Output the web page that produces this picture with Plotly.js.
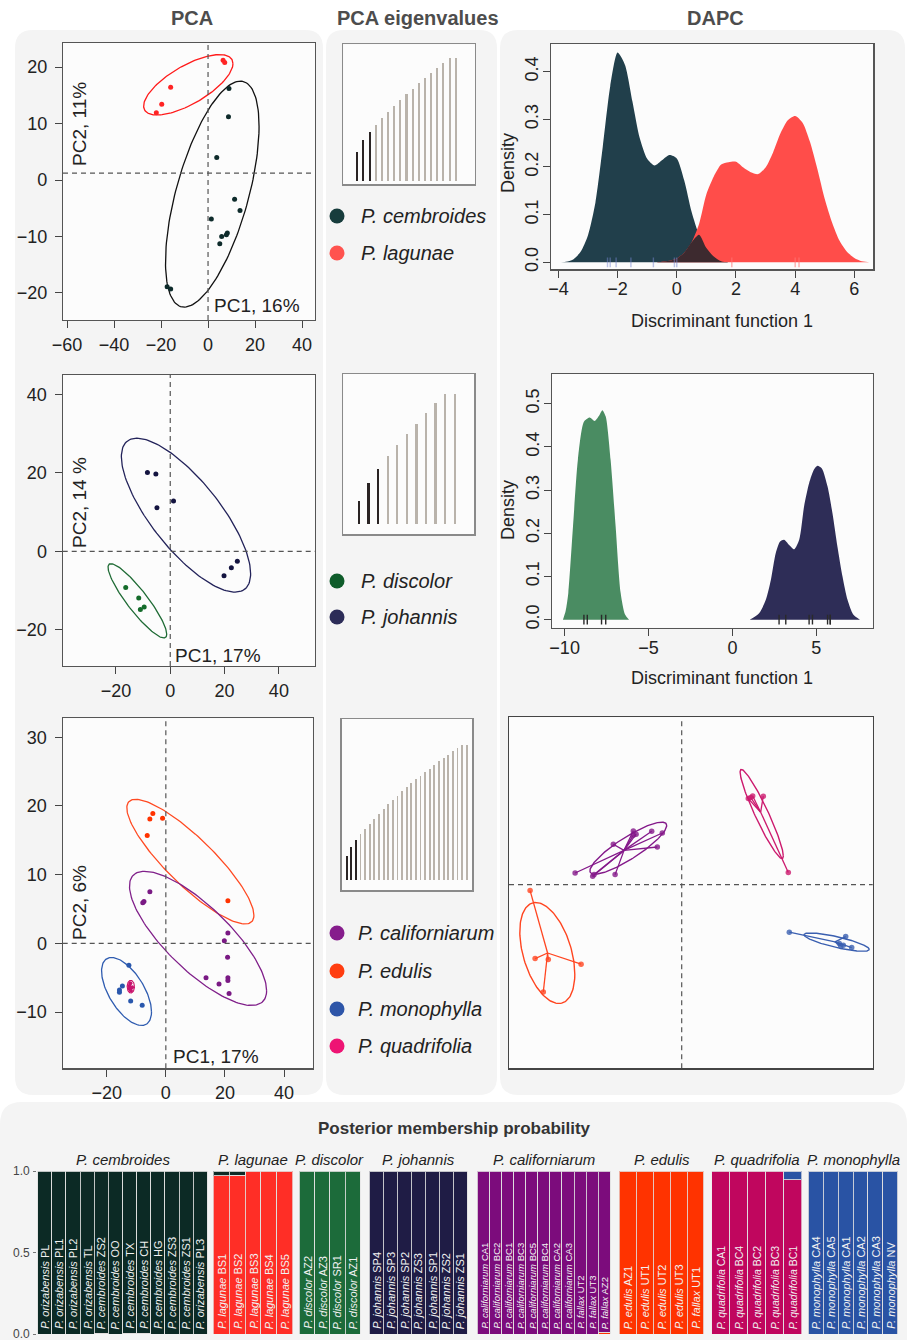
<!DOCTYPE html>
<html><head><meta charset="utf-8">
<script src="https://cdn.plot.ly/plotly-3.0.1.min.js"></script>
<style>html,body{margin:0;padding:0;background:#fff}#chart{width:907px;height:1340px}</style>
</head><body><div id="chart"></div>
<script>
// ===================== DATA =====================
// --- Row 1: P. cembroides vs P. lagunae ---
const pcaA_cem_x = [8.9, 8.7, 3.7, 11.3, 13.6, 1.4, 8.2, 7.8, 5.8, 5.0, -17.4, -15.9];
const pcaA_cem_y = [16.2, 11.2, 4.0, -3.4, -5.4, -6.9, -9.4, -9.7, -10.0, -11.3, -18.9, -19.3];
const pcaA_lag_x = [6.4, 7.1, -15.9, -19.7, -22.0];
const pcaA_lag_y = [21.2, 20.8, 16.4, 13.4, 11.9];
// ellipse summaries: [centre x, centre y, half-width x, half-height y, correlation]
const ellA_cem = [1.8, -2.5, 19.9, 20.0, 0.6];
const ellA_lag = [-8.4, 16.85, 19.0, 5.35, 0.7];
const pcaA_hline = 1.2;
const eigA = [23.2, 33.0, 39.5, 45.5, 51.2, 56.4, 61.3, 65.9, 70.6, 75.2, 79.6, 83.9, 88.2, 92.3, 96.2, 100, 100];
const dapcA_x = [-4.0,-3.75,-3.5,-3.25,-3.0,-2.75,-2.5,-2.25,-2.0,-1.75,-1.5,-1.25,-1.0,-0.75,-0.5,-0.25,0,0.25,0.5,0.75,1.0,1.25,1.5,1.75,2.0,2.25,2.5,2.75,3.0,3.25,3.5,3.75,4.0,4.25,4.5,4.75,5.0,5.25,5.5,5.75,6.0,6.25,6.5,6.75];
const dapcA_cem = [0,0.001,0.006,0.022,0.057,0.125,0.243,0.369,0.44,0.414,0.338,0.26,0.217,0.203,0.214,0.225,0.218,0.172,0.106,0.058,0.03,0.012,0.002,0,0,0,0,0,0,0,0,0,0,0,0,0,0,0,0,0,0,0,0,0];
const dapcA_lag = [0,0,0,0,0,0,0,0,0,0,0,0,0,0,0.001,0.003,0.008,0.02,0.042,0.08,0.143,0.18,0.205,0.21,0.211,0.199,0.189,0.185,0.199,0.23,0.27,0.298,0.307,0.293,0.253,0.196,0.133,0.083,0.045,0.022,0.009,0.002,0,0];
const dapcA_rugCem = [-2.34,-2.25,-2.05,-1.55,-0.79,-0.08,0.0];
const dapcA_rugLag = [1.86,4.0,4.13];

// --- Row 2: P. discolor vs P. johannis ---
const pcaB_joh_x = [-8.4, -5.3, -4.9, 1.2, 19.8, 22.5, 24.7];
const pcaB_joh_y = [20.1, 19.7, 11.1, 12.8, -6.2, -4.2, -2.5];
const pcaB_dis_x = [-16.4, -11.6, -11.0, -9.6];
const pcaB_dis_y = [-9.2, -11.9, -14.8, -14.2];
const ellB_joh = [5.8, 9.2, 23.8, 19.6, -0.76];
const ellB_dis = [-12.1, -12.6, 10.8, 9.46, -0.9];
const eigB = [18.1, 31.9, 42.7, 52.4, 60.9, 69.3, 77.2, 85.2, 92.9, 100, 100];
const dapcB_dis_x = [-10.1,-9.94,-9.78,-9.5,-9.21,-8.85,-8.51,-8.21,-7.95,-7.75,-7.55,-7.26,-6.96,-6.66,-6.4,-6.16];
const dapcB_dis_d = [0,0.02,0.062,0.216,0.37,0.458,0.468,0.46,0.472,0.485,0.47,0.37,0.216,0.062,0.012,0];
const dapcB_joh_x = [1.03,1.59,1.99,2.29,2.58,2.84,3.08,3.38,3.68,3.98,4.27,4.57,4.87,5.07,5.33,5.67,5.96,6.26,6.56,6.86,7.2,7.6];
const dapcB_joh_d = [0,0.015,0.046,0.092,0.154,0.181,0.185,0.173,0.163,0.185,0.262,0.316,0.348,0.356,0.35,0.308,0.247,0.169,0.1,0.046,0.012,0];
const dapcB_rugDis = [-8.85,-8.65,-7.8,-7.55];
const dapcB_rugJoh = [2.78,3.18,4.57,4.77,5.67,5.83,5.83];

// --- Row 3: californiarum, edulis, monophylla, quadrifolia ---
const pcaC_edu_x = [-4.4, -5.4, -1.1, -6.3, 21.0];
const pcaC_edu_y = [18.9, 18.1, 18.2, 15.7, 6.2];
const pcaC_cal_x = [-7.4, -7.8, -5.4, 19.8, 21.0, 20.9, 13.6, 18.0, 21.0, 21.0, 21.4];
const pcaC_cal_y = [6.1, 5.9, 7.5, 0.4, 1.5, -2.0, -5.0, -5.9, -5.0, -5.4, -7.3];
const pcaC_mon_x = [-12.5, -15.7, -15.7, -14.7, -11.9, -8.0];
const pcaC_mon_y = [-3.2, -6.8, -7.1, -6.2, -8.4, -9.0];
const pcaC_qua_x = [-12.0, -11.4, -12.3, -11.8, -12.4];
const pcaC_qua_y = [-5.8, -6.4, -6.6, -6.9, -6.2];
const ellC_edu = [8.3, 11.9, 21.5, 9.07, -0.86];
const ellC_cal = [10.9, 0.73, 23.2, 9.76, -0.78];
const ellC_mon = [-13.3, -7.0, 8.45, 4.95, -0.6];
const ellC_qua = [-11.85, -6.3, 1.24, 0.93, 0.0];
const eigC = [18.0, 24.2, 29.8, 34.0, 37.9, 41.6, 45.3, 49.0, 52.5, 55.9, 59.1, 62.3, 65.6, 68.5, 71.7, 74.4, 77.1, 79.8, 82.3, 85.0, 87.7, 90.2, 92.6, 95.3, 97.8, 100, 100];
const dapcC_cal_x = [-5.33, -4.45, -4.38, -3.33, -3.42, -2.42, -2.28, -1.5, -0.97, -1.22, -2.42];
const dapcC_cal_y = [0.58, 0.42, 0.5, 0.5, 2.02, 2.68, 2.52, 2.67, 2.58, 1.88, 2.47];
const dapcC_edu_x = [-7.58, -7.33, -6.67, -5.03, -6.92];
const dapcC_edu_y = [-0.3, -3.7, -3.75, -3.98, -5.37];
const dapcC_qua_x = [3.33, 3.55, 4.08, 5.33, 3.45];
const dapcC_qua_y = [4.3, 4.43, 4.42, 0.6, 4.35];
const dapcC_mon_x = [5.38, 8.2, 7.88, 7.95, 8.5, 8.08];
const dapcC_mon_y = [-2.38, -2.6, -2.95, -3.07, -3.15, -3.03];
const ellD_cal = [-2.67, 1.82, 1.92, 1.3, 0.87];
const ellD_edu = [-6.72, -3.42, 1.375, 2.525, -0.42];
const ellD_qua = [4.0, 3.53, 1.08, 2.23, -0.94];
const ellD_mon = [7.75, -2.875, 1.63, 0.46, -0.8];

// --- Posterior membership probability ---
const samplesCem = ["P. orizabensis PL","P. orizabensis PL1","P. orizabensis PL2","P. orizabensis TL","P. cembroides ZS2","P. cembroides OO","P. cembroides TX","P. cembroides CH","P. cembroides HG","P. cembroides ZS3","P. cembroides ZS1","P. orizabensis PL3"];
const minorCem = [0,0,0,0,0.006,0,0.006,0.004,0,0,0,0];          // prob. P. lagunae
const samplesLag = ["P. lagunae BS1","P. lagunae BS2","P. lagunae BS3","P. lagunae BS4","P. lagunae BS5"];
const minorLag = [0.03,0.025,0,0,0];                              // prob. P. cembroides
const samplesDis = ["P. discolor AZ2","P. discolor AZ3","P. discolor SR1","P. discolor AZ1"];
const minorDis = [0,0,0,0];
const samplesJoh = ["P. johannis SP4","P. johannis SP3","P. johannis SP2","P. johannis ZS3","P. johannis SP1","P. johannis ZS2","P. johannis ZS1"];
const minorJoh = [0,0,0,0,0,0,0];
const samplesCal = ["P. californiarum CA1","P. californiarum BC2","P. californiarum BC1","P. californiarum BC3","P. californiarum BC5","P. californiarum BC4","P. californiarum CA2","P. californiarum CA3","P. fallax UT2","P. fallax UT3","P. fallax AZ2"];
const minorCal = [0,0,0,0,0,0,0,0,0,0,0.01];                      // prob. P. edulis
const samplesEdu = ["P. edulis AZ1","P. edulis UT1","P. edulis UT2","P. edulis UT3","P. fallax UT1"];
const minorEdu = [0,0,0,0,0];
const samplesQua = ["P. quadrifolia CA1","P. quadrifolia BC4","P. quadrifolia BC2","P. quadrifolia BC3","P. quadrifolia BC1"];
const minorQua = [0,0,0,0,0.055];                                 // prob. P. monophylla
const samplesMon = ["P. monophylla CA4","P. monophylla CA5","P. monophylla CA1","P. monophylla CA2","P. monophylla CA3","P. monophylla NV"];
const minorMon = [0,0,0,0,0,0];
const memberTicks = [0, 0.5, 1];

// ===================== STYLE / LAYOUT =====================
const FONT = 'Liberation Sans, Arial, Helvetica, sans-serif';
const W = 907, H = 1340;
const PX = v => v / W, PY = v => 1 - v / H;
const dom = (a, b) => [PX(a), PX(b)];
const domY = (top, bottom) => [PY(bottom), PY(top)];

const layout = {
  width: W, height: H, margin: {l:0, r:0, t:0, b:0},
  paper_bgcolor: '#ffffff', plot_bgcolor: 'rgba(0,0,0,0)',
  showlegend: false, barmode: 'stack', bargap: 0,
  font: {family: FONT, color: '#222'},
  shapes: [], annotations: []
};
const traces = [];

function setAxes(n, xd, yd, xr, yr, xo, yo) {
  const s = n === 1 ? '' : String(n);
  const base = {showline: true, mirror: true, linecolor: '#555', linewidth: 1.2, showgrid: false, zeroline: false, fixedrange: true};
  layout['xaxis' + s] = Object.assign({}, base, {domain: dom(xd[0], xd[1]), range: xr, anchor: 'y' + s}, xo);
  layout['yaxis' + s] = Object.assign({}, base, {domain: domY(yd[0], yd[1]), range: yr, anchor: 'x' + s}, yo);
}
const tk = {ticks: 'outside', ticklen: 7, tickwidth: 1, tickcolor: '#444', tickfont: {size: 18, color: '#222', family: FONT}};
const tkPX = {...tk, ticklabelstandoff: 1};
const tkPY = {...tk, ticklabelstandoff: 4};
const tkDX = {...tk, ticklabelstandoff: -4};
const tkDY = {...tk, ticklabelstandoff: -3, tickformat: '.1f', tickangle: -90};
const noTk = {ticks: '', showticklabels: false};
const eigLine = {linecolor: '#8a8a8a', linewidth: 1.3};

setAxes(1, [63,315], [43,320], [-61.7,45.5], [-24.78,24.25], {...tkPX, tickvals:[-60,-40,-20,0,20,40]}, {...tkPY, tickvals:[-20,-10,0,10,20]});
setAxes(2, [343.3,475], [44.3,184.3], [-1.28,20.14], [-2.94,111.4], {...noTk, ...eigLine}, {...noTk, ...eigLine});
setAxes(3, [550.7,873.3], [44,269.3], [-4.26,6.64], [-0.0147,0.458], {...tkDX, tickvals:[-4,-2,0,2,4,6]}, {...tkDY, tickvals:[0,0.1,0.2,0.3,0.4]});
setAxes(4, [62.7,315], [375,666], [-39.6,53.3], [-29.2,44.9], {...tkPX, tickvals:[-20,0,20,40]}, {...tkPY, tickvals:[-20,0,20,40]});
setAxes(5, [343.3,474.3], [374,534.3], [-0.64,13.05], [-7.67,115.3], {...noTk, ...eigLine}, {...noTk, ...eigLine});
setAxes(6, [551.7,872.7], [374,627.7], [-10.77,8.36], [-0.0185,0.5686], {...tkDX, tickvals:[-10,-5,0,5]}, {...tkDY, tickvals:[0,0.1,0.2,0.3,0.4,0.5]});
setAxes(7, [62.7,312.7], [718.3,1068.3], [-34.9,49.7], [-18.18,32.76], {...tkPX, tickvals:[-20,0,20,40]}, {...tkPY, tickvals:[-10,0,10,20,30]});
setAxes(8, [341.7,472.3], [719,890.3], [-0.083,28.21], [-7.6,119], {...noTk, ...eigLine}, {...noTk, ...eigLine});
setAxes(9, [509,872.7], [717.3,1068.3], [-8.635,9.55], [-9.185,8.365], {...noTk, linecolor:'#444', linewidth:1.5}, {...noTk, linecolor:'#444', linewidth:1.5});

// ---------- backgrounds ----------
function roundRect(x0, y0, x1, y1, r, fill) {
  const X = v => PX(v).toFixed(5), Y = v => PY(v).toFixed(5);
  const p = `M ${X(x0+r)} ${Y(y0)} L ${X(x1-r)} ${Y(y0)} Q ${X(x1)} ${Y(y0)} ${X(x1)} ${Y(y0+r)} L ${X(x1)} ${Y(y1-r)} Q ${X(x1)} ${Y(y1)} ${X(x1-r)} ${Y(y1)} L ${X(x0+r)} ${Y(y1)} Q ${X(x0)} ${Y(y1)} ${X(x0)} ${Y(y1-r)} L ${X(x0)} ${Y(y0+r)} Q ${X(x0)} ${Y(y0)} ${X(x0+r)} ${Y(y0)} Z`;
  return {type:'path', xref:'paper', yref:'paper', path:p, fillcolor:fill, line:{width:0}, layer:'below'};
}
const PANEL = '#f4f4f4';
layout.shapes.push(roundRect(15, 30, 323, 1095, 18, PANEL));
layout.shapes.push(roundRect(326, 30, 497, 1095, 18, PANEL));
layout.shapes.push(roundRect(500, 30, 905, 1095, 18, PANEL));
layout.shapes.push(roundRect(0, 1102, 907, 1360, 22, PANEL));
['', '2', '3', '4', '5', '6', '7', '8', '9'].forEach(s => {
  const xa = layout['xaxis' + s], ya = layout['yaxis' + s];
  layout.shapes.push({type:'rect', xref:'paper', yref:'paper', x0:xa.domain[0], x1:xa.domain[1], y0:ya.domain[0], y1:ya.domain[1], fillcolor:'#fcfcfc', line:{width:0}, layer:'below'});
});

// ---------- helpers ----------
function ellipse(p, n = 160) {
  const [cx, cy, A, B, rho] = p, d = Math.acos(rho), xs = [], ys = [];
  for (let i = 0; i <= n; i++) { const t = 2 * Math.PI * i / n; xs.push(cx + A * Math.cos(t)); ys.push(cy + B * Math.cos(t - d)); }
  return {xs, ys};
}
const mean = a => a.reduce((s, v) => s + v, 0) / a.length;
function star(xs, ys) {
  const mx = mean(xs), my = mean(ys), X = [], Y = [];
  xs.forEach((x, i) => { X.push(mx, x, null); Y.push(my, ys[i], null); });
  return {X, Y};
}
function addEllipse(p, color, ax, width = 1.3) {
  const e = ellipse(p);
  traces.push({type:'scatter', mode:'lines', x:e.xs, y:e.ys, xaxis:'x'+ax, yaxis:'y'+ax, line:{color, width}, hoverinfo:'skip'});
}
function addPoints(xs, ys, color, ax, size = 5, opacity = 1) {
  traces.push({type:'scatter', mode:'markers', x:xs, y:ys, xaxis:'x'+ax, yaxis:'y'+ax, marker:{color, size, opacity}, hoverinfo:'skip'});
}
function addStar(xs, ys, color, ax, width = 1.2) {
  const s = star(xs, ys);
  traces.push({type:'scatter', mode:'lines', x:s.X, y:s.Y, xaxis:'x'+ax, yaxis:'y'+ax, line:{color, width}, hoverinfo:'skip'});
}
function dashed(ax, xv, yv) {
  const s = ax === 1 ? '' : String(ax);
  const ln = {color:'#555', width:1.2, dash:'5px,4px'};
  layout.shapes.push({type:'line', xref:'x'+s, yref:'y'+s+' domain', x0:xv, x1:xv, y0:0, y1:1, line:ln, layer:'above'});
  layout.shapes.push({type:'line', xref:'x'+s+' domain', yref:'y'+s, x0:0, x1:1, y0:yv, y1:yv, line:ln, layer:'above'});
}
function addEig(vals, ax, width, nRetained) {
  traces.push({type:'bar', x:vals.map((v, i) => i + 1), y:vals, xaxis:'x'+ax, yaxis:'y'+ax, width,
    marker:{color:vals.map((v, i) => i < nRetained ? '#2a2424' : '#b9b3ab'), line:{width:0}}, hoverinfo:'skip'});
}
function addDensity(xs, ys, color, ax) {
  traces.push({type:'scatter', mode:'lines', x:xs, y:ys, xaxis:'x'+ax, yaxis:'y'+ax, fill:'tozeroy', fillcolor:color,
    line:{width:0, shape:'spline', smoothing:0.7, color}, hoverinfo:'skip'});
}
function addRug(xs, color, ax) {
  traces.push({type:'scatter', mode:'markers', x:xs, y:xs.map(() => 0), xaxis:'x'+ax, yaxis:'y'+ax,
    marker:{symbol:'line-ns-open', size:7, color, line:{color, width:1.4}}, hoverinfo:'skip'});
}
function ann(text, x, y, opt) {
  layout.annotations.push(Object.assign({text, x:PX(x), y:PY(y), xref:'paper', yref:'paper', showarrow:false,
    font:{family:FONT, size:19, color:'#222'}, xanchor:'center', yanchor:'middle'}, opt));
}

// ---------- Row 1 ----------
dashed(1, 0, pcaA_hline);
addEllipse(ellA_cem, '#111111', 1);
addEllipse(ellA_lag, '#ff1a1a', 1);
addPoints(pcaA_cem_x, pcaA_cem_y, '#0e2b2b', 1);
addPoints(pcaA_lag_x, pcaA_lag_y, '#ff2424', 1);
addEig(eigA, 2, 0.33, 3);
addDensity(dapcA_x, dapcA_cem, '#213f4b', 3);
addDensity(dapcA_x, dapcA_lag, '#ff4d4a', 3);
addDensity(dapcA_x, dapcA_cem.map((v, i) => Math.min(v, dapcA_lag[i])), '#3d2a2f', 3);
addRug(dapcA_rugCem, 'rgba(120,135,210,0.5)', 3);
addRug(dapcA_rugLag, 'rgba(255,120,120,0.6)', 3);

// ---------- Row 2 ----------
dashed(4, 0, 0);
addEllipse(ellB_joh, '#23235a', 4);
addEllipse(ellB_dis, '#1f6b35', 4);
addPoints(pcaB_joh_x, pcaB_joh_y, '#141440', 4);
addPoints(pcaB_dis_x, pcaB_dis_y, '#146b2a', 4);
addEig(eigB, 5, 0.23, 3);
addDensity(dapcB_dis_x, dapcB_dis_d, '#4a8c62', 6);
addDensity(dapcB_joh_x, dapcB_joh_d, '#2e2d57', 6);
addRug(dapcB_rugDis, '#2a2a2a', 6);
addRug(dapcB_rugJoh, '#2a2a2a', 6);

// ---------- Row 3 ----------
dashed(7, 0, 0);
addEllipse(ellC_edu, '#ff4a22', 7);
addEllipse(ellC_cal, '#80208a', 7);
addEllipse(ellC_mon, '#2f5cb0', 7);
addEllipse(ellC_qua, '#cc1166', 7, 1.1);
addStar(pcaC_qua_x, pcaC_qua_y, '#cc1166', 7, 0.8);
addPoints(pcaC_edu_x, pcaC_edu_y, '#ff3300', 7);
addPoints(pcaC_cal_x, pcaC_cal_y, '#7a1a84', 7);
addPoints(pcaC_mon_x, pcaC_mon_y, '#2a58ad', 7);
addPoints(pcaC_qua_x, pcaC_qua_y, '#c8146e', 7, 4);
addEig(eigC, 8, 0.4, 3);
dashed(9, 0, 0);
[[dapcC_cal_x, dapcC_cal_y, ellD_cal, '#84198a'], [dapcC_edu_x, dapcC_edu_y, ellD_edu, '#ff4520'],
 [dapcC_qua_x, dapcC_qua_y, ellD_qua, '#cc1a6e'], [dapcC_mon_x, dapcC_mon_y, ellD_mon, '#3a5fb0']].forEach(g => {
  addEllipse(g[2], g[3], 9, 1.4);
  addStar(g[0], g[1], g[3], 9, 1.3);
  addPoints(g[0], g[1], g[3], 9, 5.5, 0.8);
});

// ---------- titles & labels ----------
const T = {size:20, color:'#4d4d4d', family:FONT, weight:'bold'};
ann('<b>PCA</b>', 192, 18, {font:T});
ann('<b>PCA eigenvalues</b>', 418, 18, {font:T});
ann('<b>DAPC</b>', 715, 18, {font:T});
ann('PC2, 11%', 80, 124, {textangle:-90});
ann('PC1, 16%', 257, 306);
ann('PC2, 14 %', 80, 503, {textangle:-90});
ann('PC1, 17%', 218, 655);
ann('PC2, 6%', 79, 903, {textangle:-90});
ann('PC1, 17%', 216, 1056);
ann('Density', 508, 163, {textangle:-90, font:{family:FONT, size:18, color:'#222'}});
ann('Discriminant function 1', 722, 321, {font:{family:FONT, size:18, color:'#222'}});
ann('Density', 508, 510, {textangle:-90, font:{family:FONT, size:18, color:'#222'}});
ann('Discriminant function 1', 722, 678, {font:{family:FONT, size:18, color:'#222'}});

// ---------- legends ----------
function legendItem(cx, cy, color, label, tx) {
  layout.shapes.push({type:'circle', xref:'paper', yref:'paper', x0:PX(cx-7.5), x1:PX(cx+7.5), y0:PY(cy+7.5), y1:PY(cy-7.5), fillcolor:color, line:{width:0}});
  ann('<i>' + label + '</i>', tx, cy, {xanchor:'left', font:{family:FONT, size:20, color:'#222'}});
}
legendItem(337, 216, '#173c3c', 'P. cembroides', 359);
legendItem(337, 253, '#ff534f', 'P. lagunae', 359);
legendItem(337, 581, '#0e5c2a', 'P. discolor', 359);
legendItem(337, 617, '#2c2c58', 'P. johannis', 359);
legendItem(337, 933, '#861d8c', 'P. californiarum', 356);
legendItem(337, 971, '#ff3d10', 'P. edulis', 356);
legendItem(337, 1009, '#2d55a8', 'P. monophylla', 356);
legendItem(337, 1046, '#ee1474', 'P. quadrifolia', 356);

// ---------- posterior membership bars ----------
const barColor = {cem:'#0c2a25', lag:'#ff2e26', dis:'#1c6b3a', joh:'#1f1c45', cal:'#7c0c7c', edu:'#ff3300', qua:'#c0065e', mon:'#2953a4'};
layout.yaxis10 = {domain: domY(1171, 1334), range:[0, 1], anchor:'x10', showgrid:false, zeroline:false, showline:false, fixedrange:true,
  tickvals:memberTicks, showticklabels:false, ticks:'outside', ticklen:3, tickcolor:'#777'};
memberTicks.forEach(v => {
  layout.annotations.push({text:v.toFixed(1), x:0, y:v, xref:'paper', yref:'y10', xanchor:'right', yanchor:'middle',
    xshift:32, showarrow:false, font:{family:FONT, size:12, color:'#444'}});
});
const groups = [
  {ax:10, d:[36.7, 208.3], names:samplesCem, own:'cem', minorSp:'lag', minor:minorCem, order:['lag','cem'], label:'P. cembroides', fs:11},
  {ax:11, d:[213.3, 292.7], names:samplesLag, own:'lag', minorSp:'cem', minor:minorLag, order:['lag','cem'], label:'P. lagunae', fs:11},
  {ax:12, d:[299, 360.7], names:samplesDis, own:'dis', minorSp:null, minor:minorDis, order:['dis','joh'], label:'P. discolor', fs:11},
  {ax:13, d:[368.3, 468.3], names:samplesJoh, own:'joh', minorSp:null, minor:minorJoh, order:['dis','joh'], label:'P. johannis', fs:11},
  {ax:14, d:[476, 611.7], names:samplesCal, own:'cal', minorSp:'edu', minor:minorCal, order:['edu','cal','qua','mon'], label:'P. californiarum', fs:9.5},
  {ax:15, d:[619.3, 704], names:samplesEdu, own:'edu', minorSp:null, minor:minorEdu, order:['edu','cal','qua','mon'], label:'P. edulis', fs:11},
  {ax:16, d:[711.7, 801.7], names:samplesQua, own:'qua', minorSp:'mon', minor:minorQua, order:['edu','cal','qua','mon'], label:'P. quadrifolia', fs:10.5},
  {ax:17, d:[807.7, 898.3], names:samplesMon, own:'mon', minorSp:null, minor:minorMon, order:['edu','cal','qua','mon'], label:'P. monophylla', fs:11}
];
groups.forEach(g => {
  const xa = 'x' + g.ax;
  layout['xaxis' + g.ax] = {domain: dom(g.d[0], g.d[1]), anchor:'y10', type:'category', showticklabels:false, ticks:'', showline:false, showgrid:false, zeroline:false, fixedrange:true};
  g.order.forEach(sp => {
    let vals = null;
    if (sp === g.own) vals = g.minor.map(v => 1 - v);
    else if (sp === g.minorSp) vals = g.minor.map(v => v > 0 ? v : null);
    if (!vals) return;
    traces.push({type:'bar', x:g.names, y:vals, xaxis:xa, yaxis:'y10', width:1,
      marker:{color:barColor[sp], line:{color:'rgba(225,225,225,0.85)', width:1}}, hoverinfo:'skip'});
  });
  g.names.forEach(n => {
    const k = n.lastIndexOf(' ');
    layout.annotations.push({text:'<i>' + n.slice(0, k) + '</i> ' + n.slice(k + 1), x:n, y:0, xref:xa, yref:'y10',
      textangle:-90, xanchor:'center', yanchor:'bottom', yshift:3, showarrow:false, font:{family:FONT, size:g.fs, color:'#f2f2f2'}});
  });
  ann('<i>' + g.label + '</i>', (g.d[0] + g.d[1]) / 2, 1159, {font:{family:FONT, size:15, color:'#222'}});
});
ann('<b>Posterior membership probability</b>', 454, 1128, {font:{family:FONT, size:17, color:'#333'}});

Plotly.newPlot('chart', traces, layout, {staticPlot:true, displayModeBar:false});
</script></body></html>
